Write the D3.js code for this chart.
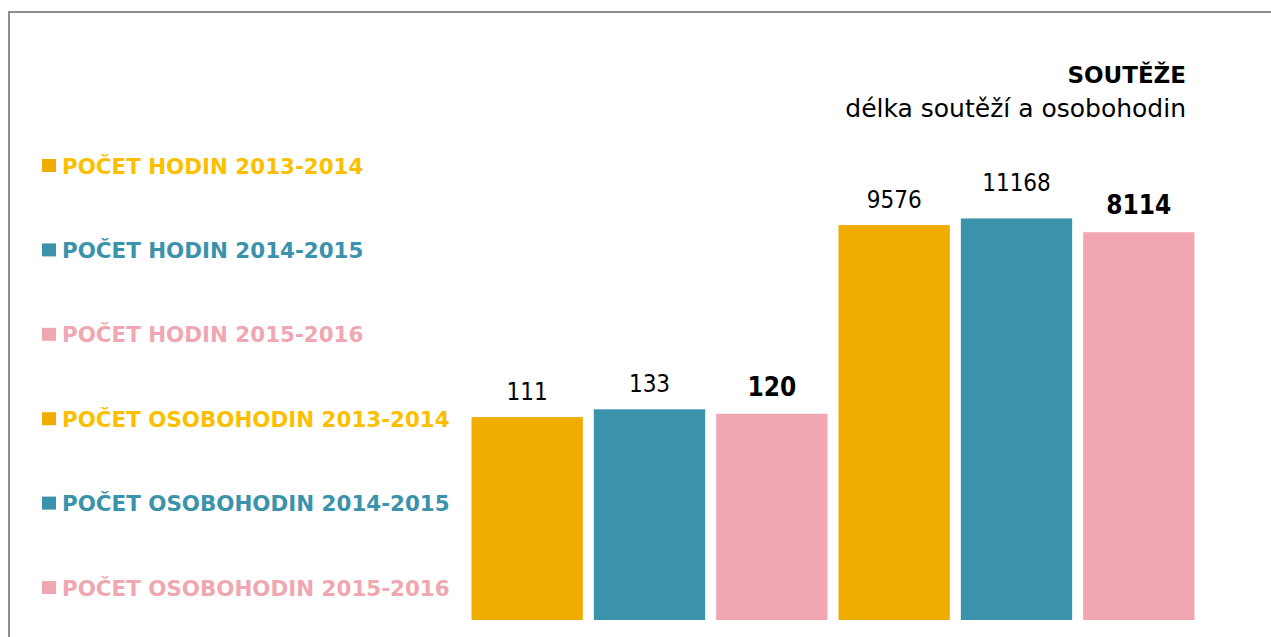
<!DOCTYPE html>
<html>
<head>
<meta charset="utf-8">
<script src="https://cdn.jsdelivr.net/npm/d3@7"></script>
<style>
    body { margin: 0; background: #fff; }
    svg { display: block; font-family: "DejaVu Sans Condensed", "DejaVu Sans", sans-serif; }
</style>
</head>
<body>
<svg id="chart" width="1271" height="637"></svg>
<script>
// data
var labels = ["POČET HODIN 2013-2014", "POČET HODIN 2014-2015", "POČET HODIN 2015-2016",
              "POČET OSOBOHODIN 2013-2014", "POČET OSOBOHODIN 2014-2015", "POČET OSOBOHODIN 2015-2016"];
var values = [111, 133, 120, 9576, 11168, 8114];
var years = ["2013-2014", "2014-2015", "2015-2016", "2013-2014", "2014-2015", "2015-2016"];
var title = "SOUTĚŽE";
var subtitle = "délka soutěží a osobohodin";

var barColor = {"2013-2014": "#f0ad00", "2014-2015": "#3a92ab", "2015-2016": "#f0a7b1"};
var textColor = {"2013-2014": "#fcbf00", "2014-2015": "#3a92ab", "2015-2016": "#f0a7b1"};

var svg = d3.select("#chart");

// frame (only top and left edges are visible)
svg.append("path")
    .attr("d", "M9,637V12H1271")
    .attr("fill", "none")
    .attr("stroke", "#8c8c8c")
    .attr("stroke-width", 2);

// title
svg.append("text")
    .attr("x", 1186)
    .attr("y", 83)
    .attr("text-anchor", "end")
    .attr("font-weight", "bold")
    .style("font-family", "'DejaVu Sans', sans-serif")
    .style("font-size", "23px")
    .text(title);

svg.append("text")
    .attr("x", 1186)
    .attr("y", 117)
    .attr("text-anchor", "end")
    .style("font-family", "'DejaVu Sans', sans-serif")
    .style("font-size", "25px")
    .text(subtitle);

// legend
var legend = svg.append("g").attr("class", "legend");
var rows = legend.selectAll("g")
    .data(labels)
    .enter().append("g")
    .attr("transform", function(d, i) {
        return "translate(0," + (165.5 + i * 84.4) + ")";
    });

rows.append("rect")
    .attr("x", 42)
    .attr("y", -6.5)
    .attr("width", 14)
    .attr("height", 13)
    .attr("fill", function(d, i) { return barColor[years[i]]; });

rows.append("text")
    .attr("x", 62)
    .attr("y", 8)
    .attr("font-weight", "bold")
    .style("font-family", "'DejaVu Sans', sans-serif")
    .style("font-size", "21.4px")
    .attr("fill", function(d, i) { return textColor[years[i]]; })
    .text(function(d) { return d; });

// bars on a log scale
var x = d3.scaleBand()
    .domain(d3.range(values.length))
    .range([466, 1200])
    .paddingInner(0.09)
    .paddingOuter(0.045);

var y = d3.scaleLog()
    .domain([1, 100000])
    .range([620, 124]);

svg.append("g").selectAll("rect")
    .data(values)
    .enter().append("rect")
    .attr("x", function(d, i) { return x(i); })
    .attr("y", function(d) { return y(d); })
    .attr("width", x.bandwidth())
    .attr("height", function(d) { return y(1) - y(d); })
    .attr("fill", function(d, i) { return barColor[years[i]]; });

// value labels, the newest season is bold
var lift = [17, 17, 18, 17, 27, 18];
svg.append("g").selectAll("text")
    .data(values)
    .enter().append("text")
    .attr("x", function(d, i) { return x(i) + x.bandwidth() / 2; })
    .attr("y", function(d, i) { return y(d) - lift[i]; })
    .attr("text-anchor", "middle")
    .attr("font-weight", function(d, i) { return years[i] === "2015-2016" ? "bold" : "normal"; })
    .style("font-size", function(d, i) { return years[i] === "2015-2016" ? "26px" : "24px"; })
    .text(function(d) { return d; });
</script>
</body>
</html>
